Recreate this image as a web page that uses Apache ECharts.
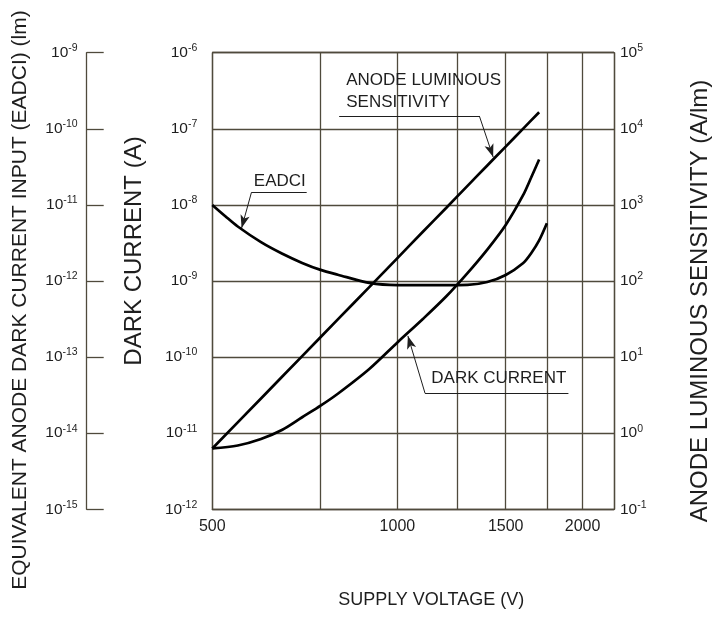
<!DOCTYPE html>
<html>
<head>
<meta charset="utf-8">
<script src="https://cdn.jsdelivr.net/npm/echarts@6/dist/echarts.min.js"></script>
<style>
  html, body { margin: 0; padding: 0; background: #fff; }
  #chart { width: 714px; height: 617px; }
</style>
</head>
<body>
<div id="chart"></div>
<script>
// Supply voltage grid lines and labelled ticks (V)
const voltageGrid = [500, 750, 1000, 1250, 1500, 1750, 2000, 2250];
const voltageLabels = [500, 1000, 1500, 2000];

// Anode luminous sensitivity (A/lm)
const sensVoltage = [500, 600, 700, 800, 900, 1000, 1100, 1200, 1300, 1400, 1500, 1600, 1700];
const sensValues  = [0.63, 2.86, 10.3, 31.3, 83, 200, 444, 910, 1780, 3300, 5830, 9980, 16500];

// Anode dark current (A)
const darkVoltage = [500, 550, 600, 650, 700, 750, 800, 900, 1000, 1100, 1200, 1300, 1400, 1500, 1600, 1650, 1700];
const darkValues  = [6.3e-12, 6.89e-12, 8.39e-12, 1.11e-11, 1.62e-11, 2.30e-11, 3.30e-11, 6.98e-11, 1.56e-10,
                     3.17e-10, 6.25e-10, 1.27e-9, 2.59e-9, 5.45e-9, 1.33e-8, 2.29e-8, 3.95e-8];

// Equivalent anode dark current input, EADCI (lm)
const eadciVoltage = [500, 525, 550, 600, 650, 700, 750, 800, 900, 1000, 1100, 1200, 1300, 1400, 1500, 1600, 1650, 1700, 1750];
const eadciValues  = [1.0e-11, 7.1e-12, 5.2e-12, 3.24e-12, 2.28e-12, 1.73e-12, 1.4e-12, 1.21e-12, 9.45e-13, 8.85e-13,
                      8.85e-13, 8.85e-13, 8.9e-13, 9.7e-13, 1.2e-12, 1.71e-12, 2.32e-12, 3.42e-12, 5.75e-12];

// Axis ranges (decades)
const darkRange  = [1e-12, 1e-6];
const eadciRange = [1e-15, 1e-9];
const sensRange  = [0.1, 1e5];

// Callout positions in data space [voltage, value on the curve's own axis]
const sensCallout  = { text: [824, 30700], under: [[804, 14730], [1359, 14730]], tip: [1431, 4260] };
const eadciCallout = { text: [583, 2.02e-11], under: [[579, 1.465e-11], [712, 1.465e-11]], tip: [558, 4.97e-12] };
const darkCallout  = { text: [1133, 5.2e-11], under: [[1109, 3.34e-11], [1897, 3.34e-11]], tip: [1040, 1.9e-10] };

const SANS = "'Liberation Sans', Arial, sans-serif";
const INK = '#1e1e1e';
const RULE = '#4f4a3c';

const pairs = (xs, ys) => xs.map((x, i) => [x, ys[i]]);

function powerLabel(v) {
  const e = Math.round(Math.log10(v));
  return '{b|10}{s|' + e + '}';
}
const powerRich = {
  b: { fontFamily: SANS, fontSize: 15.5, color: INK, lineHeight: 20 },
  s: { fontFamily: SANS, fontSize: 10.5, color: INK, lineHeight: 11, verticalAlign: 'top' }
};

function callout(c, text, leaderFrom) {
  return {
    markLine: {
      silent: true,
      animation: false,
      symbol: ['none', 'none'],
      label: { show: false },
      lineStyle: { color: INK, width: 1, type: 'solid' },
      data: [
        [{ coord: c.under[0] }, { coord: c.under[1] }],
        [{ coord: c.under[leaderFrom] },
         { coord: c.tip, symbol: 'arrow', symbolSize: [7, 13] }]
      ]
    },
    markPoint: {
      silent: true,
      animation: false,
      data: [{
        coord: c.text,
        symbol: 'circle',
        symbolSize: 1,
        itemStyle: { color: 'transparent' },
        label: {
          show: true,
          position: 'right',
          distance: 0,
          formatter: text,
          align: 'left',
          fontFamily: SANS,
          fontSize: 17,
          lineHeight: 22,
          color: INK
        }
      }]
    }
  };
}

const curveStyle = { color: '#000', width: 2.7 };

const chart = echarts.init(document.getElementById('chart'));
chart.setOption({
  animation: false,
  backgroundColor: '#fff',
  grid: { left: 212.3, right: 100, top: 52.7, bottom: 107.7, containLabel: false, outerBoundsMode: 'none' },
  xAxis: {
    type: 'log',
    logBase: 10,
    min: voltageGrid[0],
    max: voltageGrid[voltageGrid.length - 1],
    axisLine: { show: true, lineStyle: { color: RULE, width: 1.3 } },
    axisTick: { show: false, customValues: voltageGrid },
    axisLabel: {
      customValues: voltageLabels,
      formatter: v => String(Math.round(v)),
      fontFamily: SANS, fontSize: 16, color: INK, margin: 9
    },
    splitLine: { show: true, lineStyle: { color: RULE, width: 1.3 } },
    name: 'SUPPLY VOLTAGE (V)',
    nameLocation: 'middle',
    nameGap: 82,
    nameTextStyle: { fontFamily: SANS, fontSize: 18, color: INK, padding: [0, 0, 0, 36] }
  },
  yAxis: [
    {
      type: 'log', logBase: 10, min: darkRange[0], max: darkRange[1],
      position: 'left',
      axisLine: { show: true, lineStyle: { color: RULE, width: 1.3 } },
      axisTick: { show: false },
      axisLabel: { formatter: powerLabel, rich: powerRich, margin: 15 },
      splitLine: { show: true, lineStyle: { color: RULE, width: 1.3 } },
      name: 'DARK CURRENT (A)',
      nameLocation: 'middle',
      nameRotate: 90,
      nameGap: 66,
      nameTextStyle: { fontFamily: SANS, fontSize: 24, color: INK, padding: [0, 0, 0, 60] }
    },
    {
      type: 'log', logBase: 10, min: eadciRange[0], max: eadciRange[1],
      position: 'left',
      offset: 125.6,
      axisLine: { show: true, lineStyle: { color: RULE, width: 1.3 } },
      axisTick: { show: true, inside: true, length: 17, lineStyle: { color: RULE, width: 1.3 } },
      axisLabel: { formatter: powerLabel, rich: powerRich, margin: 9 },
      splitLine: { show: false },
      name: 'EQUIVALENT ANODE DARK CURRENT INPUT (EADCI) (lm)',
      nameLocation: 'middle',
      nameRotate: 90,
      nameGap: 56,
      nameTextStyle: { fontFamily: SANS, fontSize: 21, color: INK, padding: [0, 38, 0, 0] }
    },
    {
      type: 'log', logBase: 10, min: sensRange[0], max: sensRange[1],
      position: 'right',
      axisLine: { show: true, lineStyle: { color: RULE, width: 1.3 } },
      axisTick: { show: false },
      axisLabel: { formatter: powerLabel, rich: powerRich, margin: 6 },
      splitLine: { show: false },
      name: 'ANODE LUMINOUS SENSITIVITY (A/lm)',
      nameLocation: 'middle',
      nameRotate: 90,
      nameGap: 74,
      nameTextStyle: { fontFamily: SANS, fontSize: 24, color: INK, padding: [0, 40, 0, 0] }
    }
  ],
  series: [
    Object.assign({
      name: 'ANODE LUMINOUS SENSITIVITY',
      type: 'line',
      yAxisIndex: 2,
      data: pairs(sensVoltage, sensValues),
      smooth: 0.3,
      symbol: 'none',
      lineStyle: curveStyle,
      z: 5
    }, callout(sensCallout, 'ANODE LUMINOUS\nSENSITIVITY', 1)),
    Object.assign({
      name: 'DARK CURRENT',
      type: 'line',
      yAxisIndex: 0,
      data: pairs(darkVoltage, darkValues),
      smooth: 0.3,
      symbol: 'none',
      lineStyle: curveStyle,
      z: 5
    }, callout(darkCallout, 'DARK CURRENT', 0)),
    Object.assign({
      name: 'EADCI',
      type: 'line',
      yAxisIndex: 1,
      data: pairs(eadciVoltage, eadciValues),
      smooth: 0.3,
      symbol: 'none',
      lineStyle: curveStyle,
      z: 5
    }, callout(eadciCallout, 'EADCI', 0))
  ]
});
</script>
</body>
</html>
